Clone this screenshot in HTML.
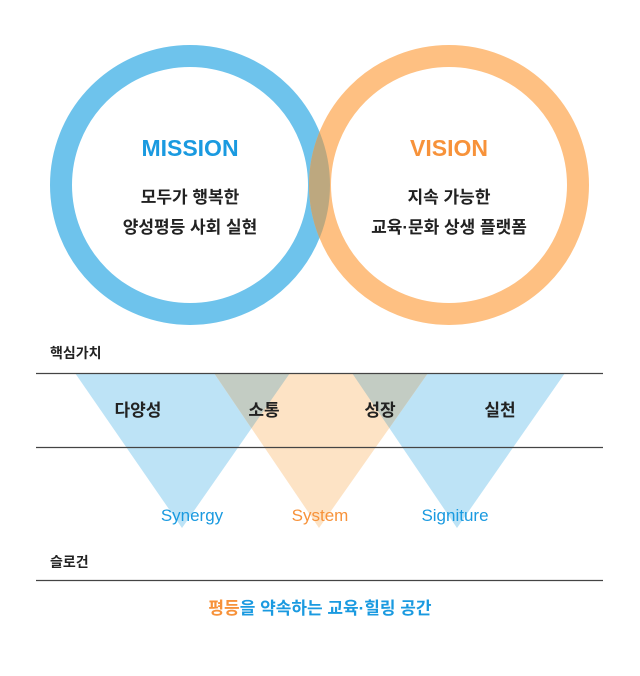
<!DOCTYPE html>
<html><head><meta charset="utf-8"><style>
body{margin:0;background:#fff;width:640px;height:671px;overflow:hidden}
text{font-family:"Liberation Sans","Noto Sans CJK KR",sans-serif}
</style></head><body>
<svg width="640" height="671" viewBox="0 0 640 671" xmlns="http://www.w3.org/2000/svg">
<defs>
<mask id="mb"><rect width="640" height="671" fill="#000"/><circle cx="190" cy="185" r="129" fill="none" stroke="#fff" stroke-width="22"/></mask>
<mask id="mt1"><rect width="640" height="671" fill="#000"/><polygon points="75,373 290,373 182,528" fill="#fff"/><polygon points="352,373 565,373 457,528" fill="#fff"/></mask>
</defs>
<circle cx="190" cy="185" r="129" fill="none" stroke="#6EC3EC" stroke-width="22"/>
<circle cx="449" cy="185" r="129" fill="none" stroke="#FEC082" stroke-width="22"/>
<circle cx="449" cy="185" r="129" fill="none" stroke="#BDA87F" stroke-width="22" mask="url(#mb)"/>
<text x="190" y="156" text-anchor="middle" font-size="23" font-weight="bold" fill="#1A9AE0">MISSION</text>
<text x="190" y="203" text-anchor="middle" font-size="17" font-weight="bold" fill="#222">모두가 행복한</text>
<text x="190" y="233" text-anchor="middle" font-size="17" font-weight="bold" fill="#222">양성평등 사회 실현</text>
<text x="449" y="156" text-anchor="middle" font-size="23" font-weight="bold" fill="#F7923A">VISION</text>
<text x="449" y="203" text-anchor="middle" font-size="17" font-weight="bold" fill="#222">지속 가능한</text>
<text x="449" y="233" text-anchor="middle" font-size="17" font-weight="bold" fill="#222">교육·문화 상생 플랫폼</text>

<text x="50" y="358" font-size="14" font-weight="bold" fill="#222">핵심가치</text>
<polygon points="75,373 290,373 182,528" fill="#BDE3F6"/>
<polygon points="352,373 565,373 457,528" fill="#BDE3F6"/>
<polygon points="214,373 428,373 319,528" fill="#FDE3C5"/>
<polygon points="214,373 428,373 319,528" fill="#C3CCC3" mask="url(#mt1)"/>
<line x1="36" y1="373.5" x2="603" y2="373.5" stroke="#444" stroke-width="1.2"/>
<line x1="36" y1="447.5" x2="603" y2="447.5" stroke="#444" stroke-width="1.2"/>
<text x="138" y="416" text-anchor="middle" font-size="17" font-weight="bold" fill="#222">다양성</text>
<text x="264" y="416" text-anchor="middle" font-size="17" font-weight="bold" fill="#222">소통</text>
<text x="380" y="416" text-anchor="middle" font-size="17" font-weight="bold" fill="#222">성장</text>
<text x="500" y="416" text-anchor="middle" font-size="17" font-weight="bold" fill="#222">실천</text>
<text x="192" y="521" text-anchor="middle" font-size="17" fill="#1A9AE0">Synergy</text>
<text x="320" y="521" text-anchor="middle" font-size="17" fill="#F7923A">System</text>
<text x="455" y="521" text-anchor="middle" font-size="17" fill="#1A9AE0">Signiture</text>

<text x="50" y="567" font-size="14" font-weight="bold" fill="#222">슬로건</text>
<line x1="36" y1="580.5" x2="603" y2="580.5" stroke="#444" stroke-width="1.2"/>
<text x="320" y="614" text-anchor="middle" font-size="17" font-weight="bold" fill="#1A9AE0"><tspan fill="#F7923A">평등</tspan>을 약속하는 교육·힐링 공간</text>
</svg>
</body></html>
